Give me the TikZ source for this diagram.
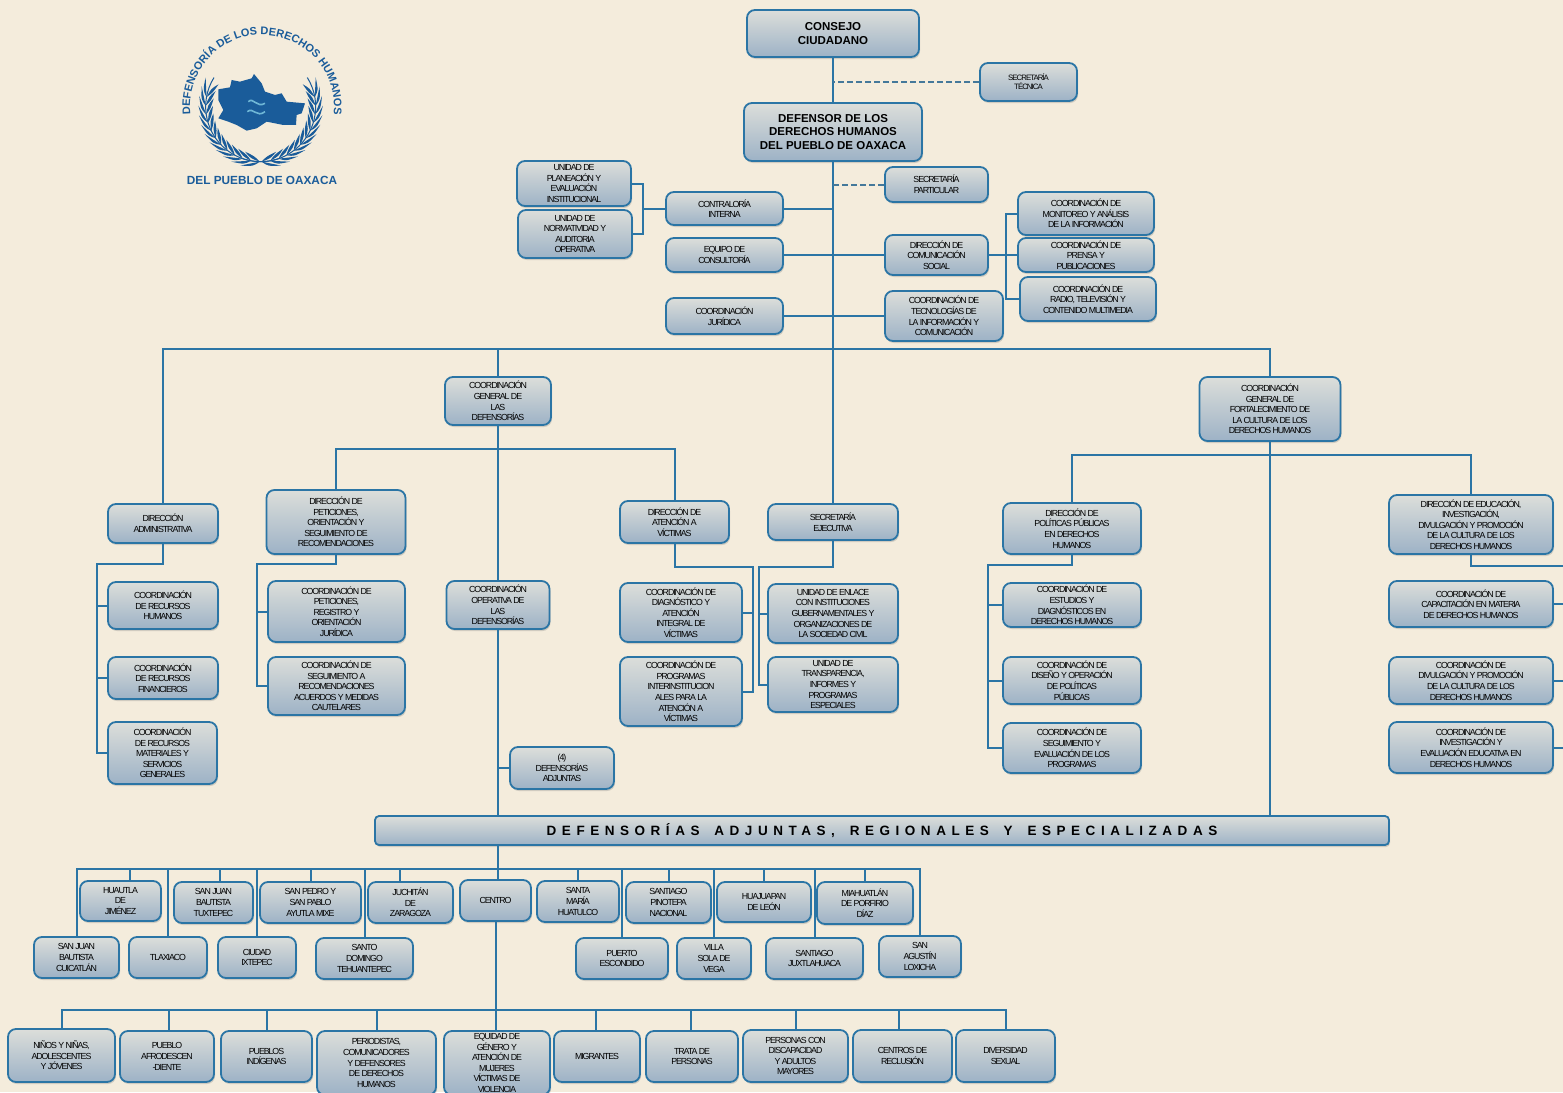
\documentclass[tikz,border=0pt]{standalone}
\usepackage{fontspec}
\usetikzlibrary{positioning, shadows, decorations.text}
\newfontfamily\orgfont[LetterSpace=-12]{Liberation Sans}
\newfontfamily\headfont{Liberation Sans}
\newfontfamily\barfont[LetterSpace=41, WordSpace=1.6]{Liberation Sans}
\definecolor{pagebg}{HTML}{F4ECDC}
\definecolor{orgblue}{HTML}{2B75A5}
\definecolor{logoblue}{HTML}{1A5C9A}
\definecolor{logosky}{HTML}{6FB7D6}
\definecolor{boxtop}{HTML}{DCDEDA}
\definecolor{boxbottom}{HTML}{9DB2C6}
\tikzset{
    boxsize/.style 2 args={minimum width=#1pt, minimum height=#2pt},
    orgbox/.style={draw=orgblue, line width=1.8pt, rounded corners=8pt, top color=boxtop, bottom color=boxbottom,
        inner sep=0pt, align=center, text=black, font=\orgfont\fontsize{8.8}{10.6}\selectfont,
        drop shadow={opacity=0.3, shadow xshift=1pt, shadow yshift=-2pt}},
    headbox/.style={orgbox, font=\headfont\bfseries\fontsize{11.5}{13.6}\selectfont},
    orgline/.style={draw=orgblue, line width=2pt},
    dashline/.style={draw=orgblue!70!gray, line width=2pt, dash pattern=on 6pt off 3pt},
}
\begin{document}
\begin{tikzpicture}[x=1pt,y=-1pt]
    \fill[pagebg] (0,0) rectangle (1563,1092);
    \useasboundingbox (0,0) rectangle (1563,1092);

    % Logo
    \begin{scope}[shift={(150,0)},x=0.3333pt,y=-0.3333pt]
        \fill[logoblue] (205,268) -- (240,262) -- (245,240) -- (270,245) -- (305,235) -- (312,222) -- (335,250) -- (345,275)
            -- (375,285) -- (395,280) -- (410,305) -- (465,310) -- (455,340) -- (440,345) -- (438,375) -- (400,375)
            -- (350,365) -- (320,385) -- (290,392) -- (260,375) -- (235,365) -- (205,355) -- (220,330) -- (205,300) -- cycle;
        \draw[logosky, line width=1.6pt] (295,305) .. controls (310,290) and (320,325) .. (345,310);
        \draw[logosky, line width=1.6pt] (292,335) .. controls (310,320) and (320,355) .. (345,335);
        \begin{scope}[shift={(332,320)}]
            \draw[logoblue, line width=1pt] (212:165) arc[start angle=212, end angle=70, radius=165];
            \draw[logoblue, line width=1pt] (-32:165) arc[start angle=-32, end angle=110, radius=165];
            \foreach \a in {91,100,...,190} {
                \fill[logoblue] (\a:165) .. controls (\a+6:180) .. (\a+18:187) .. controls (\a+10:172) .. cycle;
                \fill[logoblue] (\a:165) .. controls (\a+6:150) .. (\a+18:143) .. controls (\a+10:158) .. cycle;
            }
            \foreach \a in {89,80,...,-10} {
                \fill[logoblue] (\a:165) .. controls (\a-6:180) .. (\a-18:187) .. controls (\a-10:172) .. cycle;
                \fill[logoblue] (\a:165) .. controls (\a-6:150) .. (\a-18:143) .. controls (\a-10:158) .. cycle;
            }
        \end{scope}
    \end{scope}
    \path[postaction={decorate}, decoration={text along path, text align=center,
        text={|\headfont\bfseries\fontsize{11}{14}\selectfont\color{logoblue}|DEFENSORÍA DE LOS DERECHOS HUMANOS}}]
        (262,107) ++(150:72) arc[start angle=150, end angle=390, radius=72];
    \node[text=logoblue, font=\headfont\bfseries\fontsize{11.8}{14}\selectfont] (logoname) at (262,180) {DEL PUEBLO DE OAXACA};

    % Top of the chart
    \node[headbox, boxsize={172}{47}] (consejo) at (833,33.5) {CONSEJO\\CIUDADANO};
    \node[orgbox, boxsize={97}{38}, font=\orgfont\fontsize{7.8}{9}\selectfont] (sectecnica) at (1028.5,82) {SECRETARÍA\\TÉCNICA};
    \node[headbox, boxsize={178}{58}] (defensor) at (833,132) {DEFENSOR DE LOS\\DERECHOS HUMANOS\\DEL PUEBLO DE OAXACA};
    \node[orgbox, boxsize={103}{35}] (secparticular) at (936.5,184.5) {SECRETARÍA\\PARTICULAR};
    \node[orgbox, boxsize={114}{45}] (uniplaneacion) at (574,183.5) {UNIDAD DE\\PLANEACIÓN Y\\EVALUACIÓN\\INSTITUCIONAL};
    \node[orgbox, boxsize={114}{48}] (uninormatividad) at (575,234) {UNIDAD DE\\NORMATIVIDAD Y\\AUDITORIA\\OPERATIVA};
    \node[orgbox, boxsize={117}{33}] (contraloria) at (724.5,208.5) {CONTRALORÍA\\INTERNA};
    \node[orgbox, boxsize={117}{34}] (consultoria) at (724.5,255) {EQUIPO DE\\CONSULTORÍA};
    \node[orgbox, boxsize={117}{36}] (juridica) at (724.5,316) {COORDINACIÓN\\JURÍDICA};
    \node[orgbox, boxsize={103}{40}] (dircomunicacion) at (936.5,255) {DIRECCIÓN DE\\COMUNICACIÓN\\SOCIAL};
    \node[orgbox, boxsize={118}{50}] (tecnologias) at (944,316) {COORDINACIÓN DE\\TECNOLOGÍAS DE\\LA INFORMACIÓN Y\\COMUNICACIÓN};
    \node[orgbox, boxsize={136}{43}] (monitoreo) at (1086,213.5) {COORDINACIÓN DE\\MONITOREO Y ANÁLISIS\\DE LA INFORMACIÓN};
    \node[orgbox, boxsize={136}{34}] (prensa) at (1086,255) {COORDINACIÓN DE\\PRENSA Y\\PUBLICACIONES};
    \node[orgbox, boxsize={136}{44}] (radio) at (1088,299) {COORDINACIÓN DE\\RADIO, TELEVISIÓN Y\\CONTENIDO MULTIMEDIA};

    % Second level
    \node[orgbox, boxsize={106}{48}] (cgdefensorias) at (498,401) {COORDINACIÓN\\GENERAL DE\\LAS\\DEFENSORÍAS};
    \node[orgbox, boxsize={141}{64}] (cgfortalecimiento) at (1270,409) {COORDINACIÓN\\GENERAL DE\\FORTALECIMIENTO DE\\LA CULTURA DE LOS\\DERECHOS HUMANOS};
    \node[orgbox, boxsize={110}{39}] (diradmin) at (163,523.5) {DIRECCIÓN\\ADMINISTRATIVA};
    \node[orgbox, boxsize={139}{64}] (dirpeticiones) at (336,522) {DIRECCIÓN DE\\PETICIONES,\\ORIENTACIÓN Y\\SEGUIMIENTO DE\\RECOMENDACIONES};
    \node[orgbox, boxsize={109}{42}] (dirvictimas) at (674.5,522) {DIRECCIÓN DE\\ATENCIÓN A\\VÍCTIMAS};
    \node[orgbox, boxsize={130}{36}] (secejecutiva) at (833,522) {SECRETARÍA\\EJECUTIVA};
    \node[orgbox, boxsize={138}{51}] (dirpoliticas) at (1072,528.5) {DIRECCIÓN DE\\POLÍTICAS PÚBLICAS\\EN DERECHOS\\HUMANOS};
    \node[orgbox, boxsize={164}{59}] (direducacion) at (1471,524.5) {DIRECCIÓN DE EDUCACIÓN,\\INVESTIGACIÓN,\\DIVULGACIÓN Y PROMOCIÓN\\DE LA CULTURA DE LOS\\DERECHOS HUMANOS};

    % Third level
    \node[orgbox, boxsize={110}{47}] (rechumanos) at (163,605.5) {COORDINACIÓN\\DE RECURSOS\\HUMANOS};
    \node[orgbox, boxsize={110}{42}] (recfinancieros) at (163,678) {COORDINACIÓN\\DE RECURSOS\\FINANCIEROS};
    \node[orgbox, boxsize={109}{62}] (recmateriales) at (162.5,753) {COORDINACIÓN\\DE RECURSOS\\MATERIALES Y\\SERVICIOS\\GENERALES};
    \node[orgbox, boxsize={137}{61}] (coopeticiones) at (336.5,611.5) {COORDINACIÓN DE\\PETICIONES,\\REGISTRO Y\\ORIENTACIÓN\\JURÍDICA};
    \node[orgbox, boxsize={137}{58}] (cooseguimiento) at (336.5,686) {COORDINACIÓN DE\\SEGUIMIENTO A\\RECOMENDACIONES\\ACUERDOS Y MEDIDAS\\CAUTELARES};
    \node[orgbox, boxsize={103}{48}] (coooperativa) at (498,605) {COORDINACIÓN\\OPERATIVA DE\\LAS\\DEFENSORÍAS};
    \node[orgbox, boxsize={122}{59}] (coodiagnostico) at (681,612.5) {COORDINACIÓN DE\\DIAGNÓSTICO Y\\ATENCIÓN\\INTEGRAL DE\\VÍCTIMAS};
    \node[orgbox, boxsize={122}{69}] (cooprogramas) at (681,691.5) {COORDINACIÓN DE\\PROGRAMAS\\INTERINSTITUCION\\ALES PARA LA\\ATENCIÓN A\\VÍCTIMAS};
    \node[orgbox, boxsize={130}{59}] (unienlace) at (833,613.5) {UNIDAD DE ENLACE\\CON INSTITUCIONES\\GUBERNAMENTALES Y\\ORGANIZACIONES DE\\LA SOCIEDAD CIVIL};
    \node[orgbox, boxsize={130}{55}] (unitransparencia) at (833,684.5) {UNIDAD DE\\TRANSPARENCIA,\\INFORMES Y\\PROGRAMAS\\ESPECIALES};
    \node[orgbox, boxsize={138}{44}] (cooestudios) at (1072,605) {COORDINACIÓN DE\\ESTUDIOS Y\\DIAGNÓSTICOS EN\\DERECHOS HUMANOS};
    \node[orgbox, boxsize={138}{47}] (coodiseno) at (1072,680.5) {COORDINACIÓN DE\\DISEÑO Y OPERACIÓN\\DE POLÍTICAS\\PÚBLICAS};
    \node[orgbox, boxsize={138}{50}] (cooevaluacion) at (1072,748) {COORDINACIÓN DE\\SEGUIMIENTO Y\\EVALUACIÓN DE LOS\\PROGRAMAS};
    \node[orgbox, boxsize={164}{46}] (coocapacitacion) at (1471,604) {COORDINACIÓN DE\\CAPACITACIÓN EN MATERIA\\DE DERECHOS HUMANOS};
    \node[orgbox, boxsize={164}{47}] (coodivulgacion) at (1471,680.5) {COORDINACIÓN DE\\DIVULGACIÓN Y PROMOCIÓN\\DE LA CULTURA DE LOS\\DERECHOS HUMANOS};
    \node[orgbox, boxsize={164}{51}] (cooinvestigacion) at (1471,747.5) {COORDINACIÓN DE\\INVESTIGACIÓN Y\\EVALUACIÓN EDUCATIVA EN\\DERECHOS HUMANOS};
    \node[orgbox, boxsize={104}{42}] (defadjuntas) at (562,768) {(4)\\DEFENSORÍAS\\ADJUNTAS};
    \node[orgbox, boxsize={1014}{29}, rounded corners=4pt, font=\barfont\bfseries\fontsize{13.5}{16}\selectfont] (regionales) at (882,830.5) {DEFENSORÍAS ADJUNTAS, REGIONALES Y ESPECIALIZADAS};

    % Regional offices
    \node[orgbox, boxsize={81}{40}] (huautla) at (120.5,901) {HUAUTLA\\DE\\JIMÉNEZ};
    \node[orgbox, boxsize={79}{41}] (tuxtepec) at (213.5,902.5) {SAN JUAN\\BAUTISTA\\TUXTEPEC};
    \node[orgbox, boxsize={101}{41}] (ayutla) at (310.5,902.5) {SAN PEDRO Y\\SAN PABLO\\AYUTLA MIXE};
    \node[orgbox, boxsize={85}{41}] (juchitan) at (410.5,902.5) {JUCHITÁN\\DE\\ZARAGOZA};
    \node[orgbox, boxsize={71}{41}] (centro) at (495.5,900.5) {CENTRO};
    \node[orgbox, boxsize={82}{41}] (stamaria) at (578,901.5) {SANTA\\MARÍA\\HUATULCO};
    \node[orgbox, boxsize={85}{41}] (pinotepa) at (668.5,902.5) {SANTIAGO\\PINOTEPA\\NACIONAL};
    \node[orgbox, boxsize={94}{40}] (huajuapan) at (764,902) {HUAJUAPAN\\DE LEÓN};
    \node[orgbox, boxsize={96}{42}] (miahuatlan) at (865,903) {MIAHUATLÁN\\DE PORFIRIO\\DÍAZ};
    \node[orgbox, boxsize={85}{41}] (cuicatlan) at (76.5,957.5) {SAN JUAN\\BAUTISTA\\CUICATLÁN};
    \node[orgbox, boxsize={78}{41}] (tlaxiaco) at (168,957.5) {TLAXIACO};
    \node[orgbox, boxsize={78}{41}] (ixtepec) at (257,957.5) {CIUDAD\\IXTEPEC};
    \node[orgbox, boxsize={97}{41}] (tehuantepec) at (364.5,958.5) {SANTO\\DOMINGO\\TEHUANTEPEC};
    \node[orgbox, boxsize={92}{41}] (puerto) at (622,958.5) {PUERTO\\ESCONDIDO};
    \node[orgbox, boxsize={74}{41}] (villasola) at (714,958.5) {VILLA\\SOLA DE\\VEGA};
    \node[orgbox, boxsize={97}{41}] (juxtlahuaca) at (814.5,958.5) {SANTIAGO\\JUXTLAHUACA};
    \node[orgbox, boxsize={82}{41}] (loxicha) at (920,956.5) {SAN\\AGUSTÍN\\LOXICHA};

    % Specialized offices
    \node[orgbox, boxsize={107}{53}] (ninos) at (61.5,1055.5) {NIÑOS Y NIÑAS,\\ADOLESCENTES\\Y JÓVENES};
    \node[orgbox, boxsize={94}{51}] (afro) at (167,1056.5) {PUEBLO\\AFRODESCEN\\-DIENTE};
    \node[orgbox, boxsize={91}{51}] (indigenas) at (266.5,1056.5) {PUEBLOS\\INDÍGENAS};
    \node[orgbox, boxsize={119}{64}] (periodistas) at (376.5,1063) {PERIODISTAS,\\COMUNICADORES\\Y DEFENSORES\\DE DERECHOS\\HUMANOS};
    \node[orgbox, boxsize={106}{64}] (equidad) at (497,1063) {EQUIDAD DE\\GÉNERO Y\\ATENCIÓN DE\\MUJERES\\VÍCTIMAS DE\\VIOLENCIA};
    \node[orgbox, boxsize={86}{51}] (migrantes) at (597,1056.5) {MIGRANTES};
    \node[orgbox, boxsize={92}{51}] (trata) at (692,1056.5) {TRATA DE\\PERSONAS};
    \node[orgbox, boxsize={105}{52}] (mayores) at (795.5,1056) {PERSONAS CON\\DISCAPACIDAD\\Y ADULTOS\\MAYORES};
    \node[orgbox, boxsize={99}{52}] (reclusion) at (902.5,1056) {CENTROS DE\\RECLUSIÓN};
    \node[orgbox, boxsize={99}{52}] (diversidad) at (1005.5,1056) {DIVERSIDAD\\SEXUAL};

    % Bus lines
    \coordinate (busmain) at (833,349);
    \coordinate (busdef) at (498,449);
    \coordinate (busfort) at (1270,455);
    \coordinate (busrow) at (498,869);
    \coordinate (busesp) at (496,1009.5);
    \coordinate (leftedu) at (1563,566);

    % Main trunk
    \draw[orgline] (consejo) -- (defensor);
    \draw[orgline] (defensor) -- (secejecutiva);
    \draw[orgline] (diradmin.north) |- (busmain) -| (cgfortalecimiento.north);
    \draw[orgline] (cgdefensorias.north) -- (cgdefensorias.north |- busmain);
    \draw[dashline] (sectecnica.west) -- (sectecnica.west -| busmain);
    \draw[dashline] (secparticular.west) -- (secparticular.west -| busmain);
    \draw[orgline] (contraloria.east) -- (contraloria.east -| busmain);
    \draw[orgline] (consultoria.east) -- (dircomunicacion.west);
    \draw[orgline] (juridica.east) -- (tecnologias.west);

    % Units beside the trunk
    \coordinate (unitbar) at (643,208.5);
    \draw[orgline] (uniplaneacion.east) -| (unitbar) |- (uninormatividad.east);
    \draw[orgline] (contraloria.west) -- (unitbar);
    \coordinate (combar) at (1006,255);
    \draw[orgline] (monitoreo.west) -| (combar) |- (radio.west);
    \draw[orgline] (dircomunicacion.east) -- (prensa.west);

    % Defensorias
    \draw[orgline] (dirpeticiones.north) |- (busdef) -| (dirvictimas.north);
    \draw[orgline] (cgdefensorias.south) -- (coooperativa.north);
    \draw[orgline] (coooperativa.south) -- (coooperativa.south |- regionales.north);
    \draw[orgline] (defadjuntas.west) -- (defadjuntas.west -| coooperativa.south);

    % Administrative
    \coordinate (adminbar) at (97,564);
    \draw[orgline] (diradmin.south) |- (adminbar) |- (recmateriales.west);
    \draw[orgline] (rechumanos.west) -- (rechumanos.west -| adminbar);
    \draw[orgline] (recfinancieros.west) -- (recfinancieros.west -| adminbar);
    \coordinate (petbar) at (257,564);
    \draw[orgline] (dirpeticiones.south) |- (petbar) |- (cooseguimiento.west);
    \draw[orgline] (coopeticiones.west) -- (coopeticiones.west -| petbar);
    \coordinate (vicbar) at (752.5,567);
    \draw[orgline] (dirvictimas.south) |- (vicbar) |- (cooprogramas.east);
    \draw[orgline] (coodiagnostico.east) -- (coodiagnostico.east -| vicbar);
    \coordinate (ejebar) at (758.5,567);
    \draw[orgline] (secejecutiva.south) |- (ejebar) |- (unitransparencia.west);
    \draw[orgline] (unienlace.west) -- (unienlace.west -| ejebar);

    % Fortalecimiento
    \draw[orgline] (cgfortalecimiento.south) -- (cgfortalecimiento.south |- regionales.north);
    \draw[orgline] (dirpoliticas.north) |- (busfort) -| (direducacion.north);
    \coordinate (polbar) at (988,565);
    \draw[orgline] (dirpoliticas.south) |- (polbar) |- (cooevaluacion.west);
    \draw[orgline] (cooestudios.west) -- (cooestudios.west -| polbar);
    \draw[orgline] (coodiseno.west) -- (coodiseno.west -| polbar);
    \draw[orgline] (direducacion.south) |- (leftedu);
    \foreach \n in {coocapacitacion, coodivulgacion, cooinvestigacion}
        \draw[orgline] (\n.east) -- (\n.east -| leftedu);

    % Regional row
    \draw[orgline] ([xshift=2.5]regionales.south -| centro) -- ([xshift=2.5]centro.north);
    \draw[orgline] (cuicatlan.north) |- (busrow) -| (loxicha.north);
    \foreach \n/\s in {huautla/9.5, tuxtepec/6.5, ayutla/0, juchitan/-10.5, stamaria/0, pinotepa/0, huajuapan/0, miahuatlan/0,
        tlaxiaco/0, ixtepec/0, tehuantepec/0, puerto/0, villasola/0, juxtlahuaca/0}
        \draw[orgline] ([xshift=\s]\n.north) -- ([xshift=\s]\n.north |- busrow);

    % Specialized row
    \draw[orgline] (centro) -- (centro |- equidad.north);
    \draw[orgline] (ninos.north) |- (busesp) -| (diversidad.north);
    \foreach \n/\s in {afro/2, indigenas/0, periodistas/0, migrantes/-1, trata/-1, mayores/0, reclusion/-3.5}
        \draw[orgline] ([xshift=\s]\n.north) -- ([xshift=\s]\n.north |- busesp);
\end{tikzpicture}
\end{document}
